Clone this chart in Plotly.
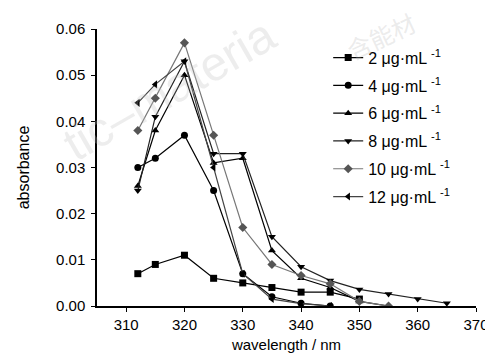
import plotly.graph_objects as go

# wavelengths (nm)
wl_2 = [312, 315, 320, 325, 330, 335, 340, 345, 350]
abs_2 = [0.007, 0.009, 0.011, 0.006, 0.005, 0.004, 0.003, 0.003, 0.0015]

wl_4 = [312, 315, 320, 325, 330, 335, 340, 345]
abs_4 = [0.030, 0.032, 0.037, 0.025, 0.007, 0.002, 0.0006, 0.0]

wl_6 = [312, 315, 320, 325, 330, 335, 340, 345, 350, 355]
abs_6 = [0.026, 0.038, 0.050, 0.031, 0.032, 0.012, 0.006, 0.004, 0.001, 0.0]

wl_8 = [312, 315, 320, 325, 330, 335, 340, 345, 350, 355, 360, 365]
abs_8 = [0.025, 0.041, 0.053, 0.033, 0.033, 0.015, 0.0085, 0.0055, 0.0036, 0.0026, 0.0015, 0.0006]

wl_10 = [312, 315, 320, 325, 330, 335, 340, 345, 350, 355]
abs_10 = [0.038, 0.045, 0.057, 0.037, 0.017, 0.009, 0.0066, 0.0048, 0.001, 0.0]

wl_12 = [312, 315, 320, 325, 330, 335, 340, 345]
abs_12 = [0.044, 0.048, 0.053, 0.030, 0.007, 0.0015, 0.0005, 0.0]

names = ["2 μg·mL <sup>-1</sup>", "4 μg·mL <sup>-1</sup>", "6 μg·mL <sup>-1</sup>",
         "8 μg·mL <sup>-1</sup>", "10 μg·mL <sup>-1</sup>", "12 μg·mL <sup>-1</sup>"]

series = [
    (wl_2, abs_2, "square", "#000000", "#000000"),
    (wl_4, abs_4, "circle", "#000000", "#000000"),
    (wl_6, abs_6, "triangle-up", "#000000", "#000000"),
    (wl_8, abs_8, "triangle-down", "#222222", "#000000"),
    (wl_10, abs_10, "diamond", "#777777", "#555555"),
    (wl_12, abs_12, "triangle-left", "#444444", "#000000"),
]

font_family = "Liberation Sans, Arial, sans-serif"

fig = go.Figure()

# faint watermark
fig.add_annotation(text="tic–materia", xref="paper", yref="paper", x=0.19, y=0.78,
                   xanchor="center", yanchor="middle",
                   showarrow=False, textangle=-30,
                   font=dict(size=48, color="rgba(190,190,190,0.28)", family=font_family))
fig.add_annotation(text="含能材", xref="paper", yref="paper", x=0.75, y=0.975,
                   xanchor="center", yanchor="middle",
                   showarrow=False, textangle=-25,
                   font=dict(size=24, color="rgba(190,190,190,0.30)", family="Noto Sans CJK SC"))

for i, ((x, y, sym, lc, mc), nm) in enumerate(zip(series, names)):
    fig.add_trace(go.Scatter(
        x=x, y=y, name=nm, mode="lines+markers", legendgroup=f"g{i}",
        line=dict(color=lc, width=1.2),
        marker=dict(symbol=sym, size=7, color=mc),
    ))

fig.update_layout(
    width=493, height=360,
    margin=dict(l=89, r=18, t=14, b=62),
    paper_bgcolor="white", plot_bgcolor="white",
    font=dict(family=font_family, color="#000000", size=15),
    showlegend=True,
    legend=dict(x=0.61, y=0.958, xanchor="left", yanchor="top",
                bgcolor="rgba(0,0,0,0)", font=dict(size=16),
                tracegroupgap=4),
    xaxis=dict(range=[305, 370], tickvals=[310, 320, 330, 340, 350, 360, 370],
               showgrid=False, zeroline=False, showline=True, linecolor="black",
               linewidth=1.5, ticks="outside", ticklen=4, tickcolor="black",
               tickfont=dict(size=15),
               title=dict(text="wavelength / nm", font=dict(size=15), standoff=8)),
    yaxis=dict(range=[0, 0.06], tickvals=[0, 0.01, 0.02, 0.03, 0.04, 0.05, 0.06],
               tickformat=".2f", showgrid=False, zeroline=False, showline=True,
               linecolor="black", linewidth=1.5, ticks="outside", ticklen=4,
               tickcolor="black", tickfont=dict(size=15), ticklabelstandoff=3,
               title=dict(text="absorbance", font=dict(size=16), standoff=22)),
)

fig.write_html("out.html")
